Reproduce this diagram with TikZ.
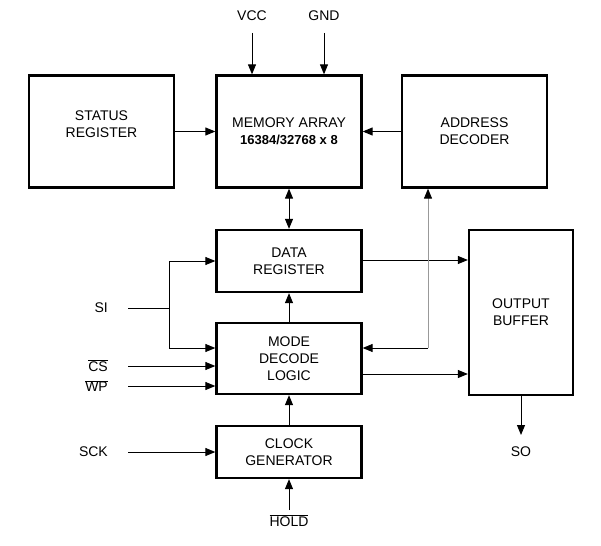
\documentclass[tikz,border=0pt]{standalone}
\usepackage{fontspec}
\setmainfont{Liberation Sans}
\usetikzlibrary{arrows.meta}
\begin{document}
\begin{tikzpicture}[x=1pt,y=-1pt,
  block/.style={draw,line width=2.3pt,align=center,inner sep=0pt,
    font=\fontsize{14}{17}\selectfont},
  lbl/.style={inner sep=0pt,font=\fontsize{14}{16}\selectfont},
  tip/.style={-{Triangle[length=10pt,width=8pt]}},
  conn/.style={line width=1pt,tip},
  wire/.style={line width=1pt},
  greywire/.style={line width=1pt,draw=black!40,-{Triangle[length=10pt,width=8pt,color=black]}}]
\useasboundingbox (0,0) rectangle (601,545);

% blocks
\node[block,minimum width=145pt,minimum height=112pt,text depth=14pt] (status) at (101.5,131.5) {STATUS\\REGISTER};
\node[block,minimum width=145pt,minimum height=112pt] (mem) at (289,131.5)
  {MEMORY ARRAY\\{\fontsize{13}{15}\selectfont\bfseries 16384/32768 x 8}};
\node[block,minimum width=145pt,minimum height=112pt] (addr) at (474.5,131.5) {ADDRESS\\DECODER};
\node[block,minimum width=145pt,minimum height=62pt] (data) at (289,261) {DATA\\REGISTER};
\node[block,minimum width=145pt,minimum height=71pt] (mode) at (289,358.5) {MODE\\DECODE\\LOGIC};
\node[block,minimum width=145pt,minimum height=52pt] (clock) at (289,452) {CLOCK\\GENERATOR};
\node[block,minimum width=104pt,minimum height=165pt] (out) at (521,312.5) {OUTPUT\\BUFFER};

% labels
\node[lbl] (vcc) at (252,16) {VCC};
\node[lbl] (gnd) at (324,16) {GND};
\node[lbl,anchor=east] (si) at (108,308) {SI};
\node[lbl,anchor=east] (cs) at (108,366) {$\overline{\mbox{CS}}$};
\node[lbl,anchor=east] (wp) at (108,386) {$\overline{\mbox{WP}}$};
\node[lbl,anchor=east] (sck) at (108,452) {SCK};
\node[lbl] (hold) at (289,521) {$\overline{\mbox{HOLD}}$};
\node[lbl] (so) at (521,452) {SO};

% connector end points
\coordinate (vccS) at (252,33);
\coordinate (gndS) at (324,33);
\coordinate (siE) at (128,308);
\coordinate (csE) at (128,366);
\coordinate (wpE) at (128,386);
\coordinate (sckE) at (128,452);
\coordinate (holdN) at (289,510);
\coordinate (soN) at (521,435);
\coordinate (junc) at (169,308);
\coordinate (bend) at (428,348);

% connectors
\draw[conn] (vccS) -- (vccS |- mem.north);
\draw[conn] (gndS) -- (gndS |- mem.north);
\draw[conn] (status.east) -- (mem.west);
\draw[conn] (addr.west) -- (mem.east);
\draw[wire,{Triangle[length=10pt,width=8pt]}-{Triangle[length=10pt,width=8pt]}] (mem.south) -- (data.north);
\draw[conn] (mode.north) -- (data.south);
\draw[conn] (clock.north) -- (mode.south);
\draw[conn] (holdN) -- (clock.south);
\draw[conn] (data.east |- 0,260) -- (out.west |- 0,260);
\draw[conn] (mode.east |- 0,374) -- (out.west |- 0,374);
\draw[conn] (bend) -- (mode.east |- bend);
\draw[greywire] (bend) -- (bend |- addr.south);
\draw[conn] (out.south) -- (soN);
\draw[wire] (siE) -- (junc);
\draw[conn] (junc) |- (data.west);
\draw[conn] (junc) |- (mode.west |- bend);
\draw[conn] (csE) -- (mode.west |- csE);
\draw[conn] (wpE) -- (mode.west |- wpE);
\draw[conn] (sckE) -- (clock.west);
\end{tikzpicture}
\end{document}
